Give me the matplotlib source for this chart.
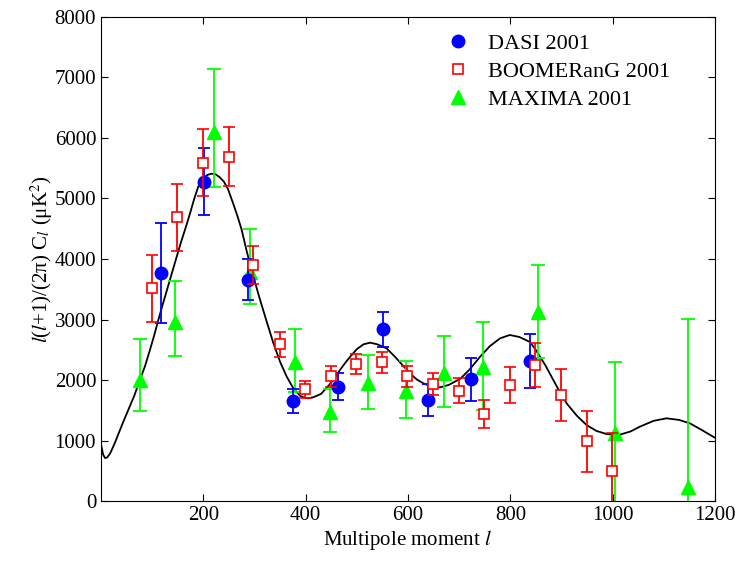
import numpy as np
import matplotlib.pyplot as plt

plt.rcParams['font.family'] = 'Liberation Serif'
plt.rcParams['mathtext.fontset'] = 'stix'

# DASI 2001
l_dasi = [117, 201, 288, 376, 464, 552, 640, 724, 839]
c_dasi = [3765, 5280, 3655, 1645, 1890, 2837, 1669, 2011, 2319]
lo_dasi = [2950, 4727, 3322, 1450, 1669, 2551, 1405, 1658, 1873]
hi_dasi = [4600, 5840, 3995, 1846, 2110, 3129, 1934, 2358, 2760]

# BOOMERanG 2001
l_boom = [99, 148, 199, 250, 298, 349, 399, 449, 498, 549, 599, 649, 699, 748, 799, 849, 900, 949, 999]
c_boom = [3515, 4689, 5592, 5691, 3895, 2595, 1846, 2072, 2264, 2303, 2072, 1934, 1823, 1438, 1923, 2248, 1757, 992, 501]
lo_boom = [2953, 4137, 5041, 5212, 3587, 2385, 1697, 1890, 2099, 2110, 1890, 1752, 1614, 1201, 1625, 1890, 1322, 474, -150]
hi_boom = [4066, 5245, 6143, 6187, 4208, 2798, 1989, 2231, 2430, 2468, 2231, 2121, 2028, 1669, 2210, 2606, 2176, 1488, 1129]

# MAXIMA 2001
l_max = [76, 145, 221, 292, 379, 448, 522, 596, 671, 746, 855, 1004, 1147]
c_max = [2000, 2964, 6104, 3790, 2295, 1476, 1945, 1823, 2110, 2220, 3129, 1119, 237]
lo_max = [1493, 2402, 5195, 3256, 1800, 1146, 1521, 1367, 1559, 1504, 2369, -150, -150]
hi_max = [2672, 3642, 7140, 4496, 2843, 1846, 2413, 2319, 2727, 2964, 3906, 2298, 3008]

# theory curve
l_th = [1, 4, 8, 12, 18, 26, 35, 45, 55, 65, 76, 86, 95, 104, 112, 121, 130, 139, 148, 156,
        164, 174, 182, 190, 200, 208, 216, 224, 232, 240, 248, 259, 267, 275, 285, 298, 311,
        324, 337, 350, 363, 376, 389, 398, 405, 415, 430, 442, 454, 467, 477, 487, 500, 513,
        526, 540, 558, 575, 591, 605, 617, 630, 645, 663, 680, 702, 720, 741, 760, 780, 799,
        818, 838, 848, 858, 868, 877, 893, 910, 930, 949, 968, 988, 1012, 1035, 1053, 1080,
        1105, 1130, 1151, 1175, 1200]
c_th = [900, 770, 710, 720, 790, 940, 1130, 1340, 1540, 1740, 2000, 2230, 2480, 2740, 2992, 3260,
        3520, 3780, 4039, 4270, 4480, 4755, 4990, 5195, 5330, 5390, 5410, 5400, 5350, 5280, 5160,
        4900, 4700, 4480, 4120, 3700, 3322, 2960, 2606, 2300, 2055, 1860, 1740, 1705, 1697, 1715,
        1770, 1880, 2000, 2165, 2280, 2385, 2510, 2590, 2617, 2590, 2524, 2380, 2230, 2100, 2010,
        1945, 1895, 1879, 1920, 2020, 2170, 2385, 2560, 2689, 2744, 2710, 2630, 2520, 2385, 2250,
        2110, 1860, 1615, 1410, 1256, 1160, 1107, 1091, 1150, 1228, 1325, 1367, 1340, 1284, 1170,
        1045]

fig = plt.figure(figsize=(7.45, 5.62), dpi=100)
ax = fig.add_axes([0.1356, 0.1085, 0.8241, 0.8613])

ax.plot(l_th, c_th, color='black', linewidth=1.3, zorder=1)


def err(c, lo, hi):
    c = np.array(c)
    return [c - np.array(lo), np.array(hi) - c]


e3 = ax.errorbar(l_max, c_max, yerr=err(c_max, lo_max, hi_max), fmt='^', color='#00ff00',
                 markersize=10, elinewidth=1.3, capsize=5, capthick=1.3, zorder=2)
e1 = ax.errorbar(l_dasi, c_dasi, yerr=err(c_dasi, lo_dasi, hi_dasi), fmt='o', color='#0000ff',
                 markersize=9, elinewidth=1.3, capsize=4, capthick=1.3, zorder=3)
e2 = ax.errorbar(l_boom, c_boom, yerr=err(c_boom, lo_boom, hi_boom), fmt='s', color='#ff0000',
                 mfc='white', mec='#ff0000', mew=1.2, markersize=6.5, elinewidth=1.3, capsize=4,
                 capthick=1.3, zorder=4)

ax.legend([e1[0], e2[0], e3[0]], ['DASI 2001', 'BOOMERanG 2001', 'MAXIMA 2001'],
          loc='upper right', bbox_to_anchor=(0.952, 0.998), frameon=False, fontsize=16,
          handletextpad=0.6, labelspacing=0.33, handlelength=1.5, borderaxespad=0.3)

ax.set_xlim(0, 1200)
ax.set_ylim(0, 8000)
ax.set_xticks([200, 400, 600, 800, 1000, 1200])
ax.set_yticks(np.arange(0, 8001, 1000))
ax.tick_params(direction='in', top=True, right=True, length=5, labelsize=15)

ax.set_xlabel('Multipole moment $l$', fontsize=15, labelpad=2)
ax.set_ylabel('$l$($l$+1)/(2π) C$_l$ (μK$^2$)', fontsize=15, labelpad=0)

fig.savefig('out.png', dpi=100)
